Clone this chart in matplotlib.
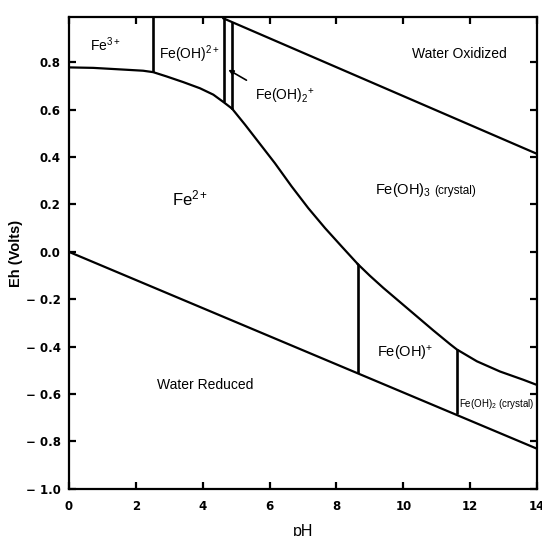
import numpy as np
import matplotlib
matplotlib.use("Agg")
import matplotlib.pyplot as plt

plt.rcParams['font.family'] = ['Liberation Sans', 'DejaVu Sans']
plt.rcParams['mathtext.fontset'] = 'custom'
plt.rcParams['mathtext.rm'] = 'Liberation Sans'
plt.rcParams['mathtext.it'] = 'Liberation Sans:italic'
plt.rcParams['mathtext.bf'] = 'Liberation Sans:bold'

# Fe3+ / Fe(OH)2+ / Fe(OH)2+  ->  Fe2+ boundary (upper curve)
upper_ph = [0.0, 0.73, 1.23, 1.73, 2.22, 2.52, 2.92, 3.42, 3.92, 4.32, 4.64, 4.88]
upper_eh = [0.778, 0.776, 0.772, 0.768, 0.764, 0.758, 0.740, 0.716, 0.690, 0.663, 0.630, 0.604]

# Fe(OH)3 (crystal) -> Fe2+ boundary
mid_ph = [4.88, 5.27, 5.66, 6.16, 6.66, 7.16, 7.66, 8.16, 8.64]
mid_eh = [0.604, 0.536, 0.465, 0.374, 0.276, 0.184, 0.100, 0.022, -0.052]

# Fe(OH)3 (crystal) -> Fe(OH)+ / Fe(OH)2 (crystal) boundary
low_ph = [8.64, 9.00, 9.40, 9.90, 10.40, 10.90, 11.40, 11.60, 12.20, 12.89, 13.59, 14.0]
low_eh = [-0.052, -0.101, -0.152, -0.212, -0.272, -0.332, -0.390, -0.412, -0.462, -0.505,
          -0.540, -0.562]

# water stability limits
ox_ph = [4.62, 14.0]
ox_eh = [0.985, 0.413]
red_ph = [0.0, 14.0]
red_eh = [0.0, -0.831]

# vertical (pH-only) boundaries: pH, lower Eh, upper Eh
vert_ph = [2.52, 4.64, 4.88, 8.64, 11.60]
vert_lo = [0.758, 0.630, 0.604, -0.510, -0.686]
vert_hi = [0.99, 0.99, 0.970, -0.052, -0.412]

xticks = [0, 2, 4, 6, 8, 10, 12, 14]
yticks = [-1.0, -0.8, -0.6, -0.4, -0.2, 0.0, 0.2, 0.4, 0.6, 0.8]
ytick_labels = ['\u2212 1.0', '\u2212 0.8', '\u2212 0.6', '\u2212 0.4', '\u2212 0.2',
                '0.0', '0.2', '0.4', '0.6', '0.8']

fig = plt.figure(figsize=(5.42, 5.36), dpi=100)
ax = fig.add_axes([0.127, 0.088, 0.864, 0.880])
ax.set_xlim(0, 14)
ax.set_ylim(-1.0, 0.99)

lw = 1.6
kw = dict(color='black', lw=lw, solid_joinstyle='round')
ax.plot(upper_ph, upper_eh, **kw)
ax.plot(mid_ph, mid_eh, **kw)
ax.plot(low_ph, low_eh, **kw)
ax.plot(ox_ph, ox_eh, **kw)
ax.plot(red_ph, red_eh, **kw)
ax.vlines(vert_ph, vert_lo, vert_hi, color='black', lw=lw + 0.3)

# pointer to the narrow Fe(OH)2+ field
ax.annotate('', xy=(4.77, 0.768), xytext=(5.31, 0.724),
            arrowprops=dict(arrowstyle='-|>', color='black', lw=1.2,
                            mutation_scale=7, shrinkA=0, shrinkB=0))

# region labels
ax.text(1.08, 0.875, 'Fe$^{3+}$', ha='center', va='center', fontsize=10)
ax.text(3.60, 0.835, 'Fe(OH)$^{2+}$', ha='center', va='center', fontsize=10)
ax.text(6.45, 0.655, 'Fe(OH)$_2$$^{+}$', ha='center', va='center', fontsize=10)
ax.text(11.68, 0.833, 'Water Oxidized', ha='center', va='center', fontsize=10)
ax.text(3.62, 0.225, 'Fe$^{2+}$', ha='center', va='center', fontsize=12)
t_fe3 = ax.text(9.15, 0.262, 'Fe(OH)$_3$', ha='left', va='center', fontsize=10.5)
ax.annotate('(crystal)', xy=(1, 0.5), xycoords=t_fe3, xytext=(2, -1),
            textcoords='offset points', ha='left', va='center', fontsize=8.5)
ax.text(10.05, -0.430, 'Fe(OH)$^{+}$', ha='center', va='center', fontsize=10.5)
ax.text(12.80, -0.643, 'Fe(OH)$_2$ (crystal)', ha='center', va='center', fontsize=7)
ax.text(4.07, -0.560, 'Water Reduced', ha='center', va='center', fontsize=10)

tick_font = dict(family='DejaVu Sans', size=8.5, weight='bold')
ax.set_xticks(xticks)
ax.set_xticklabels([str(t) for t in xticks], fontdict=tick_font)
ax.set_yticks(yticks)
ax.set_yticklabels(ytick_labels, fontdict=tick_font)
ax.tick_params(direction='in', length=5, width=1.6, top=True, right=True,
               labeltop=False, labelright=False, pad=6)
ax.tick_params(axis='x', pad=8)

for sp in ax.spines.values():
    sp.set_linewidth(1.6)

ax.set_ylabel('Eh (Volts)', fontsize=10.5, fontweight='bold', labelpad=2)
ax.set_xlabel('pH', fontsize=11.5, labelpad=8)

fig.savefig('out.png', dpi=100)
